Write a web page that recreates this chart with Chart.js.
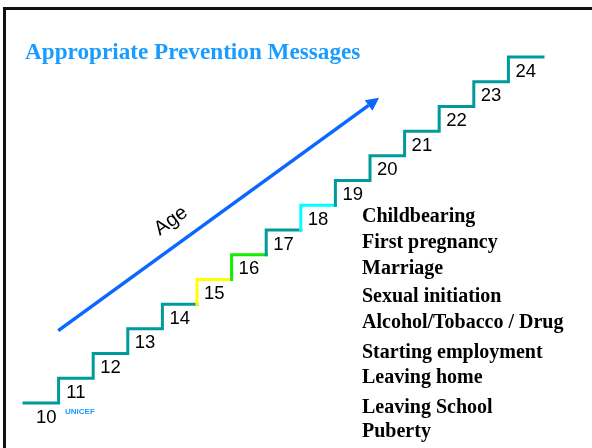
<!DOCTYPE html>
<html><head><meta charset="utf-8">
<script src="https://cdn.jsdelivr.net/npm/chart.js@4/dist/chart.umd.min.js"></script>
<style>html,body{margin:0;padding:0;background:#fff;}canvas{display:block;}</style>
</head><body>
<canvas id="c" width="592" height="448"></canvas>
<script>
// ---- data ----
const ages = [10, 11, 12, 13, 14, 15, 16, 17, 18, 19, 20, 21, 22, 23, 24];
const stepColors = ['#009a9a', '#009a9a', '#009a9a', '#009a9a', '#009a9a', '#ffff00', '#11ee00', '#009a9a', '#00ffff', '#009a9a', '#009a9a', '#009a9a', '#009a9a', '#009a9a', '#009a9a'];
const milestones = ['Childbearing', 'First pregnancy', 'Marriage', 'Sexual initiation', 'Alcohol/Tobacco / Drug', 'Starting employment', 'Leaving home', 'Leaving School', 'Puberty'];
const arrowX = [0.99, 9.96];
const arrowY = [12.93, 22.04];
const titleText = 'Appropriate Prevention Messages';
const axisText = 'Age';
const sourceText = 'UNICEF';

// ---- layout (pixels) ----
const milestoneBaselines = [221.5, 248, 273.5, 301.5, 327.5, 358, 383, 412.5, 436.5];
const TITLE_BLUE = '#1a9cff';
const ARROW_BLUE = '#0a68ff';

const stepData = [];
ages.forEach((a, i) => { stepData.push({x: i, y: a}); stepData.push({x: i + 1, y: a}); });

const decor = {
  id: 'decor',
  beforeDraw(chart) {
    const ctx = chart.ctx;
    ctx.save();
    ctx.fillStyle = '#fff';
    ctx.fillRect(0, 0, chart.width, chart.height);
    ctx.fillStyle = '#111';
    ctx.fillRect(3, 7, chart.width - 3, 3);
    ctx.fillRect(3, 7, 3, chart.height - 7);
    ctx.restore();
  },
  afterDatasetsDraw(chart) {
    const ctx = chart.ctx;
    const xs = chart.scales.x, ys = chart.scales.y;
    ctx.save();
    // step numbers
    ctx.fillStyle = '#000';
    ctx.font = '18.5px "Liberation Sans", Arial, sans-serif';
    ctx.textAlign = 'center';
    ctx.textBaseline = 'alphabetic';
    ages.forEach((a, i) => {
      const dx = i === 0 ? 5 : 0;
      ctx.fillText(String(a), xs.getPixelForValue(i + 0.5) + dx, ys.getPixelForValue(a) + 19.5);
    });
    // arrow head
    const x0 = xs.getPixelForValue(arrowX[0]), y0 = ys.getPixelForValue(arrowY[0]);
    const x1 = xs.getPixelForValue(arrowX[1]), y1 = ys.getPixelForValue(arrowY[1]);
    const ang = Math.atan2(y1 - y0, x1 - x0);
    const L = 13, W = 6.5;
    ctx.fillStyle = ARROW_BLUE;
    ctx.beginPath();
    ctx.moveTo(x1 + L * Math.cos(ang), y1 + L * Math.sin(ang));
    ctx.lineTo(x1 + W * Math.cos(ang + Math.PI / 2), y1 + W * Math.sin(ang + Math.PI / 2));
    ctx.lineTo(x1 - W * Math.cos(ang + Math.PI / 2), y1 - W * Math.sin(ang + Math.PI / 2));
    ctx.closePath();
    ctx.fill();
    // Age label
    ctx.save();
    ctx.translate(171, 221);
    ctx.rotate(ang);
    ctx.fillStyle = '#000';
    ctx.font = '20px "Liberation Sans", Arial, sans-serif';
    ctx.textAlign = 'center';
    ctx.textBaseline = 'middle';
    ctx.fillText(axisText, 0, 0);
    ctx.restore();
    // title
    ctx.fillStyle = TITLE_BLUE;
    ctx.font = 'bold 23.2px "Liberation Serif", "Times New Roman", serif';
    ctx.textAlign = 'left';
    ctx.textBaseline = 'alphabetic';
    ctx.fillText(titleText, 25, 59);
    // source
    ctx.font = 'bold 8px "Liberation Sans", Arial, sans-serif';
    ctx.fillText(sourceText, 65, 414);
    // milestones
    ctx.fillStyle = '#000';
    ctx.font = 'bold 20px "Liberation Serif", "Times New Roman", serif';
    milestones.forEach((m, i) => ctx.fillText(m, 362, milestoneBaselines[i]));
    ctx.restore();
  }
};

new Chart(document.getElementById('c'), {
  type: 'line',
  data: {
    datasets: [
      {
        label: 'Age steps',
        data: stepData,
        borderWidth: 3,
        pointRadius: 0,
        borderColor: stepColors[0],
        borderJoinStyle: 'miter',
        borderCapStyle: 'square',
        clip: false,
        segment: {
          borderColor: c => stepColors[ages.indexOf(c.p1.parsed.y)]
        }
      },
      {
        label: 'Age arrow',
        data: arrowX.map((x, i) => ({x: x, y: arrowY[i]})),
        borderWidth: 3.5,
        pointRadius: 0,
        borderColor: ARROW_BLUE,
        clip: false
      }
    ]
  },
  options: {
    responsive: false,
    animation: false,
    layout: {padding: {left: 24, right: 49, top: 57, bottom: 45}},
    plugins: {legend: {display: false}, tooltip: {enabled: false}, title: {display: false}},
    scales: {
      x: {type: 'linear', min: 0, max: 15, display: false},
      y: {type: 'linear', min: 10, max: 24, display: false}
    }
  },
  plugins: [decor]
});
</script>
</body></html>
